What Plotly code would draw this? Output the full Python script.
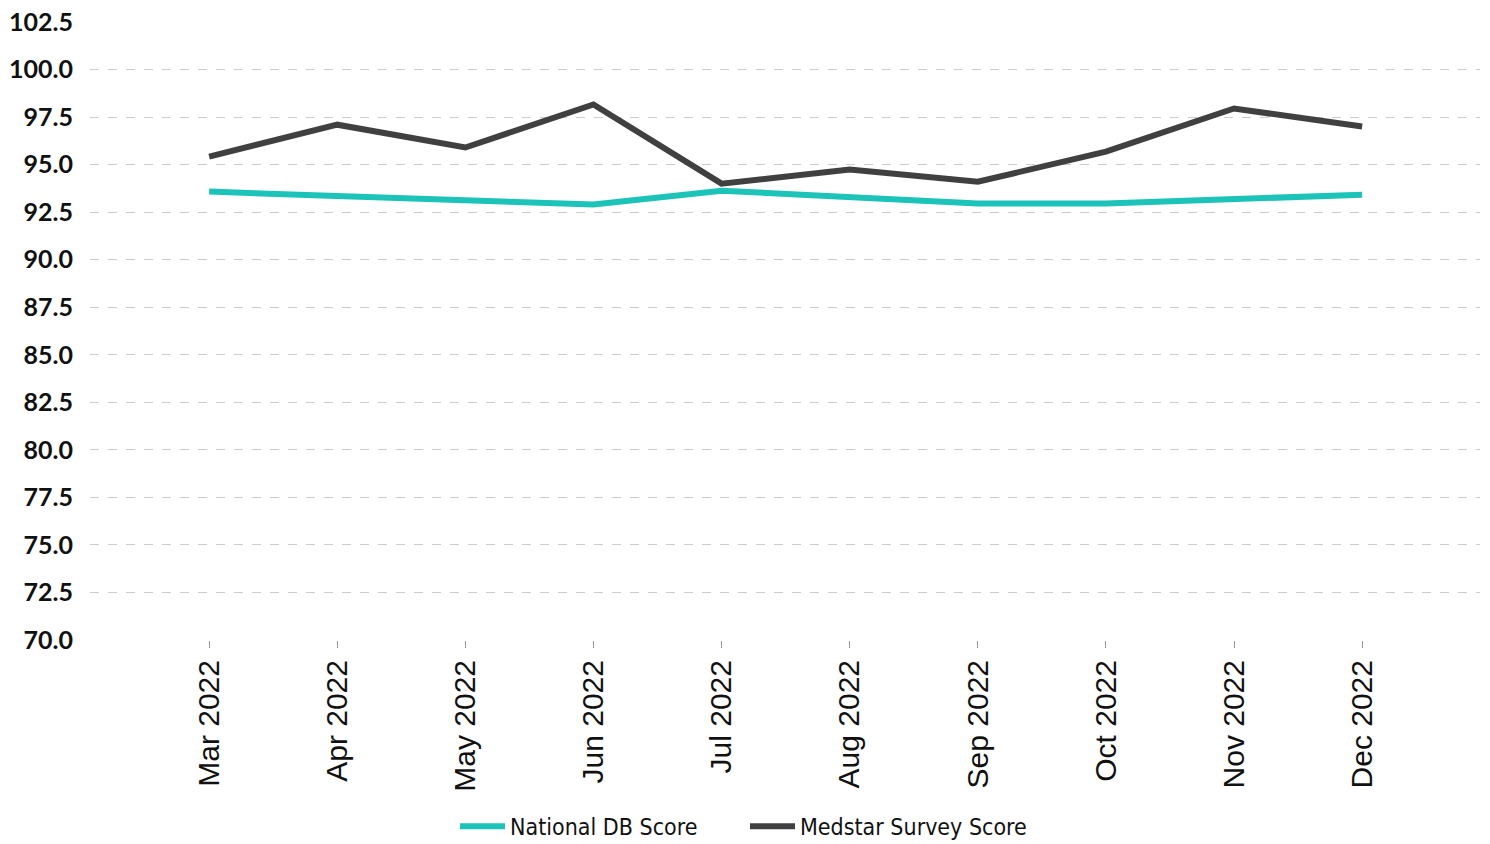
import plotly.graph_objects as go

months = ["Mar 2022", "Apr 2022", "May 2022", "Jun 2022", "Jul 2022",
          "Aug 2022", "Sep 2022", "Oct 2022", "Nov 2022", "Dec 2022"]
national_db = [93.58, 93.37, 93.16, 92.9, 93.63, 93.3, 92.95, 92.95, 93.2, 93.42]
medstar_survey = [95.42, 97.1, 95.9, 98.16, 94.0, 94.74, 94.1, 95.68, 97.95, 97.0]
y_ticks = [70.0, 72.5, 75.0, 77.5, 80.0, 82.5, 85.0, 87.5, 90.0, 92.5, 95.0, 97.5, 100.0, 102.5]

fig = go.Figure()
fig.add_trace(go.Scatter(x=months, y=national_db, name="National DB Score", mode="lines",
                         line=dict(color="#1bc3b8", width=6)))
fig.add_trace(go.Scatter(x=months, y=medstar_survey, name="Medstar Survey Score", mode="lines",
                         line=dict(color="#404040", width=6)))

fig.update_layout(
    width=1490, height=844,
    margin=dict(l=90, r=10, t=22, b=204, autoexpand=False),
    paper_bgcolor="white", plot_bgcolor="white",
    showlegend=True,
    legend=dict(orientation="h", x=0.5, xanchor="center", xref="container",
                y=0.021, yanchor="middle", yref="container", itemwidth=45,
                entrywidth=230,
                font=dict(family="DejaVu Sans Condensed", size=23, color="#111")),
    xaxis=dict(type="category", range=[-0.93, 9.92], tickangle=-90,
               showgrid=False, showline=False, zeroline=False,
               ticks="outside", ticklen=7, tickcolor="#999", tickwidth=1,
               tickfont=dict(family="Liberation Sans", size=30, color="#111")),
    yaxis=dict(range=[70, 102.5], tickvals=y_ticks,
               ticktext=[f"{v:.1f}" for v in y_ticks],
               showgrid=True, gridcolor="#cccccc", griddash="dash", gridwidth=1,
               zeroline=False, showline=False, ticklabelstandoff=16,
               tickfont=dict(family="Lato", size=25, color="#111", weight="bold")),
)

fig.write_html("out.html")
